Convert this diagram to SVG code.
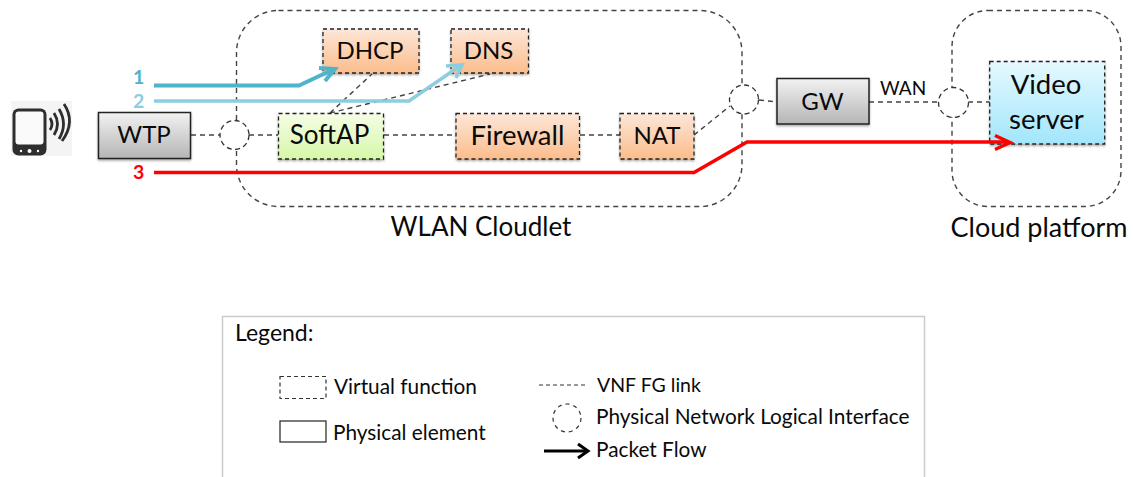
<svg xmlns="http://www.w3.org/2000/svg" width="1133" height="477" viewBox="0 0 1133 477">
<style>
text{font-family:"Lato","Open Sans","Liberation Sans",sans-serif;fill:#0a0a0a}
.c{text-anchor:middle;font-size:24px}
.w{font-size:26px}
.x{font-size:27.500px}
.l{font-size:20.800px}
.d{fill:none;stroke:#444;stroke-width:1.400;stroke-dasharray:5 4}
.n{stroke:#222;stroke-width:1.300;stroke-dasharray:4 3;filter:url(#s)}
.p{stroke:#222;stroke-width:1.500;filter:url(#s);fill:url(#gray)}
.f{fill:none;stroke-linejoin:miter}
.b{fill:#fff;stroke:#333;stroke-width:1.300;stroke-dasharray:5 3.500}
.num{font-size:19.500px;font-weight:700}
</style>
<defs>
<linearGradient id="gray" x1="0" y1="0" x2="0" y2="1"><stop offset="0" stop-color="#f2f2f2"/><stop offset="1" stop-color="#b5b5b5"/></linearGradient>
<linearGradient id="orange" x1="0" y1="0" x2="0" y2="1"><stop offset="0" stop-color="#fde6d8"/><stop offset="1" stop-color="#fbbd8c"/></linearGradient>
<linearGradient id="green" x1="0" y1="0" x2="0" y2="1"><stop offset="0" stop-color="#f5fde6"/><stop offset="1" stop-color="#d6f8a8"/></linearGradient>
<linearGradient id="blue" x1="0" y1="0" x2="0" y2="1"><stop offset="0" stop-color="#e6f9fe"/><stop offset="1" stop-color="#a2e6fb"/></linearGradient>
<filter id="s" x="-10%" y="-10%" width="120%" height="125%"><feDropShadow dx="0" dy="1.500" stdDeviation="1.200" flood-color="#000" flood-opacity=".35"/></filter>
</defs>

<g id="cloudlet"><rect class="d" x="236.500" y="10.500" width="505.500" height="196" rx="42"/></g>
<g id="cloud-platform"><rect class="d" x="952" y="10.500" width="169" height="196" rx="36"/></g>
<text class="c w" x="481" y="236">WLAN Cloudlet</text>
<text class="c" style="font-size:27px" x="1039" y="237">Cloud platform</text>

<g id="connectors">
<path class="d" d="M191 135H220M249 135H278M384 135H456M580 135H620M694 135L730 106M759 100L777 102M869 102H939M968 102H990"/>
<path class="d" d="M330 113L372 74M330 113L490 74"/>
</g>

<g id="if1"><circle class="b" cx="234.500" cy="135" r="14.500"/></g>
<g id="if2"><circle class="b" cx="744" cy="99.500" r="14.500"/></g>
<g id="if3"><circle class="b" cx="953.500" cy="102.500" r="15"/></g>

<g id="phone">
<rect x="11" y="101" width="61" height="55" fill="#f4f4f4"/>
<rect x="12.500" y="108.500" width="34" height="47" rx="6" fill="#2e2e2e"/>
<rect x="15.500" y="111.500" width="28" height="33" rx="3" fill="#fafafa"/>
<circle cx="29.500" cy="151" r="2" fill="#fff"/><circle cx="21" cy="151" r="1.200" fill="#fff"/><circle cx="38" cy="151" r="1.200" fill="#fff"/>
<path d="M50 118Q54 124 50 130M54 113Q61 124 54 135M59 109Q68 124 59 139M64 104Q76 122 62 141" fill="none" stroke="#2e2e2e" stroke-width="2.800"/>
</g>

<g id="wtp"><rect class="p" x="98.500" y="112.500" width="92" height="46"/><text class="c" x="144" y="143">WTP</text></g>
<g id="softap"><rect class="n" x="278.500" y="113.500" width="105" height="45.500" fill="url(#green)"/><text class="c w" x="329.500" y="144">SoftAP</text></g>
<g id="dhcp"><rect class="n" x="323" y="29" width="96" height="44" fill="url(#orange)"/><text class="c" x="370" y="59">DHCP</text></g>
<g id="dns"><rect class="n" x="451" y="29" width="77.500" height="44" fill="url(#orange)"/><text class="c" x="488.500" y="59">DNS</text></g>
<g id="firewall"><rect class="n" x="456" y="113.500" width="123.500" height="45.500" fill="url(#orange)"/><text class="c x" x="517.500" y="145">Firewall</text></g>
<g id="nat"><rect class="n" x="620" y="113.500" width="74" height="45.500" fill="url(#orange)"/><text class="c" x="657" y="144">NAT</text></g>
<g id="gw"><rect class="p" x="777" y="78.500" width="92" height="45.500"/><text class="c" x="822.500" y="110">GW</text></g>
<g id="video"><rect class="n" x="989.700" y="61.500" width="115" height="82.500" fill="url(#blue)"/><text class="c x" x="1046" y="94">Video</text><text class="c x" x="1046.500" y="129">server</text></g>
<text x="880" y="95" style="font-size:19px">WAN</text>

<g id="flows">
<path class="f" d="M154 85.500H299L332 70" stroke="#4fb3cc" stroke-width="4"/>
<path class="f" d="M319 68L335 69L325 81" stroke="#4fb3cc" stroke-width="4"/>
<path class="f" d="M154 101H409L460 66" stroke="#8ccde0" stroke-width="3.500"/>
<path class="f" d="M446 66L462 65L456 78" stroke="#8ccde0" stroke-width="3.500"/>
<path class="f" d="M154 172.500H694L747 142H1008" stroke="#f00" stroke-width="3.500"/>
<path class="f" d="M995 135.500L1010 142.500L995 149.500" stroke="#f00" stroke-width="3.500"/>
</g>
<g id="flow-labels">
<text class="num" x="133" y="84" style="fill:#4fb3cc">1</text>
<text class="num" x="133" y="107.500" style="fill:#8ccde0">2</text>
<text class="num" x="133" y="179" style="fill:#f00">3</text>
</g>

<g id="legend">
<path d="M222.500 477V316.500H924.500V477" fill="none" stroke="#ccc" stroke-width="1.500"/>
<text x="235" y="341" style="font-size:23px">Legend:</text>
<rect x="280" y="376.500" width="46" height="22" fill="none" stroke="#333" stroke-width="1.200" stroke-dasharray="4 3"/>
<text class="l" x="334" y="394">Virtual function</text>
<rect x="280" y="421" width="46" height="21" fill="none" stroke="#222" stroke-width="1.200"/>
<text class="l" x="333" y="440">Physical element</text>
<path d="M539 385H585" fill="none" stroke="#333" stroke-width="1.200" stroke-dasharray="4 3"/>
<text x="597" y="392" style="font-size:19.500px">VNF FG link</text>
<circle cx="567" cy="418" r="14" fill="none" stroke="#333" stroke-width="1.200" stroke-dasharray="4 4"/>
<text class="l" x="596" y="424">Physical Network Logical Interface</text>
<path d="M544 451H586" fill="none" stroke="#000" stroke-width="3"/>
<path d="M578 444L588 451L578 458" fill="none" stroke="#000" stroke-width="3"/>
<text class="l" x="596" y="457">Packet Flow</text>
</g>
</svg>
